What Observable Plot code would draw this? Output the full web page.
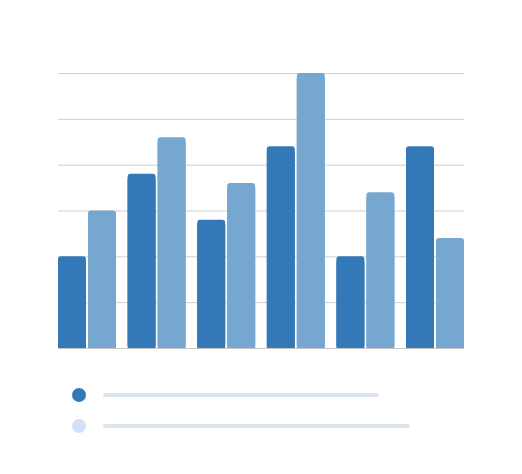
<!DOCTYPE html>
<html>
<head>
<meta charset="utf-8">
<script src="https://cdn.jsdelivr.net/npm/d3@7"></script>
<script src="https://cdn.jsdelivr.net/npm/@observablehq/plot@0.6"></script>
<style>
  html, body { margin: 0; padding: 0; background: #fff; }
  #chart svg { display: block; }
  .legend { position: relative; height: 114px; }
  .dot { position: absolute; width: 14px; height: 14px; border-radius: 50%; }
  .bar { position: absolute; height: 4px; background: #dde5f1; border-radius: 2px; }
</style>
</head>
<body>
<div id="chart"></div>
<div class="legend">
  <div class="dot" style="left:72px; top:28px; background:#3479b7"></div>
  <div class="bar" style="left:103px; width:276px; top:33px"></div>
  <div class="dot" style="left:72px; top:59px; background:#d2e2f6"></div>
  <div class="bar" style="left:103px; width:307px; top:64px"></div>
</div>
<script>
const groups = ["A", "B", "C", "D", "E", "F"];
const seriesA = [2, 3.8, 2.8, 4.4, 2, 4.4];
const seriesB = [3, 4.6, 3.6, 6, 3.4, 2.4];
const gridTicks = [1, 2, 3, 4, 5, 6];
const colors = ["#3479b7", "#76a7d0"];

const dataA = groups.map((g, i) => ({group: g, value: seriesA[i]}));
const dataB = groups.map((g, i) => ({group: g, value: seriesB[i]}));

const barsFor = (data, color, inset) => [
  Plot.barY(data, {x: "group", y: "value", fill: color, rx: 3, ...inset}),
  Plot.barY(data, {x: "group", y: "value", fill: color, insetTop: 5, ...inset})
];

const chart = Plot.plot({
  width: 522,
  height: 360,
  marginLeft: 58,
  marginRight: 58,
  marginTop: 73,
  marginBottom: 12,
  x: {domain: groups, paddingInner: 0.1667, paddingOuter: 0, round: false, axis: null},
  y: {domain: [0, 6], axis: null},
  marks: [
    Plot.ruleY(gridTicks, {stroke: "#cfcfcf", strokeWidth: 1}),
    Plot.ruleY([0], {stroke: "#c8c8c8", strokeWidth: 1}),
    ...barsFor(dataA, colors[0], {insetLeft: 0, insetRight: 30}),
    ...barsFor(dataB, colors[1], {insetLeft: 30, insetRight: 0})
  ]
});
document.getElementById("chart").append(chart);
</script>
</body>
</html>
